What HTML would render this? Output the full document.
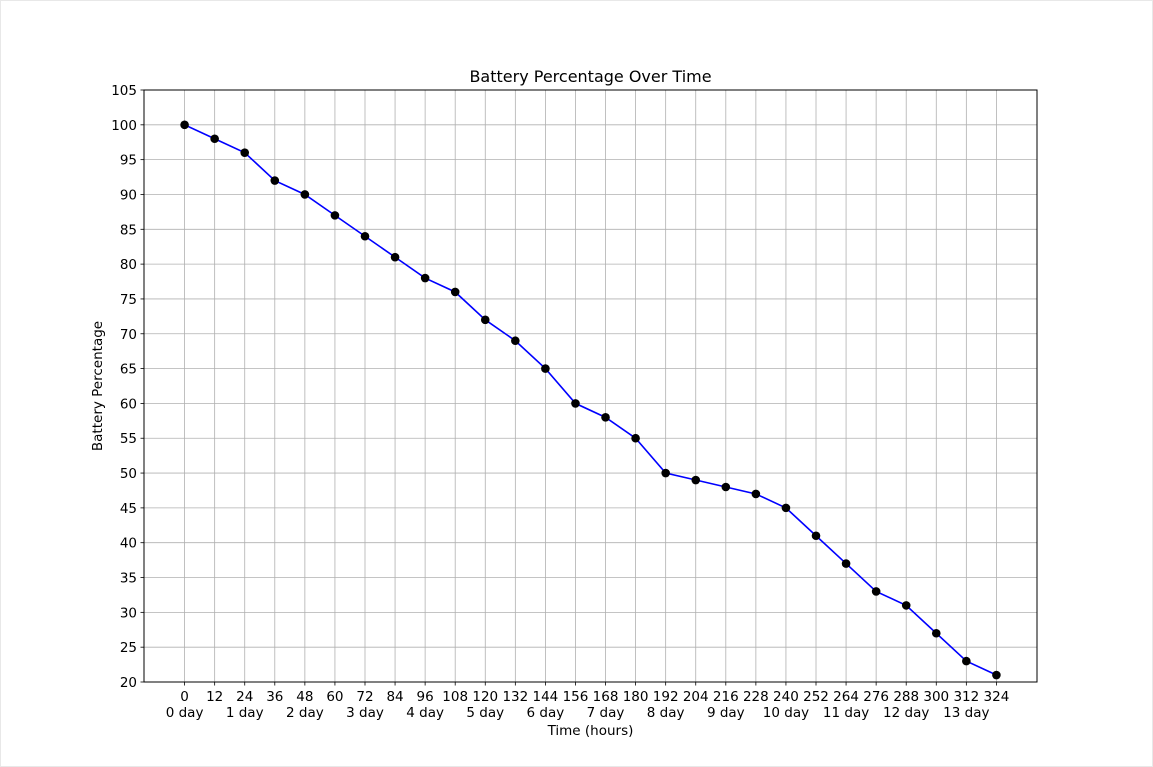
<!DOCTYPE html>
<html><head><meta charset="utf-8"><style>
html,body{margin:0;padding:0;background:#fff;}
svg{display:block;font-family:"DejaVu Sans","Liberation Sans",sans-serif;}
</style></head><body>
<svg id="chart" width="1153" height="767" viewBox="0 0 1153 767">
<rect x="0.5" y="0.5" width="1152" height="766" fill="#fff" stroke="#e8e8e8"/>
<g id="grid"></g>
<g id="ticks"></g>
<g id="series"></g>
<rect x="144" y="90" width="893" height="592" fill="none" stroke="#000" stroke-width="1"/>
<text x="590.5" y="82" text-anchor="middle" font-size="16">Battery Percentage Over Time</text>
<text x="590.5" y="735" text-anchor="middle" font-size="13.5">Time (hours)</text>
<text x="102" y="386" text-anchor="middle" font-size="13.5" transform="rotate(-90 102 386)">Battery Percentage</text>
</svg>
<script>
const hours = [0,12,24,36,48,60,72,84,96,108,120,132,144,156,168,180,192,204,216,228,240,252,264,276,288,300,312,324];
const battery = [100,98,96,92,90,87,84,81,78,76,72,69,65,60,58,55,50,49,48,47,45,41,37,33,31,27,23,21];
const yTicks = [20,25,30,35,40,45,50,55,60,65,70,75,80,85,90,95,100,105];
const dayLabels = ["0 day","1 day","2 day","3 day","4 day","5 day","6 day","7 day","8 day","9 day","10 day","11 day","12 day","13 day"];

const NS = "http://www.w3.org/2000/svg";
const L = 144, R = 1037, T = 90, B = 682;
const xMin = -16.2, xMax = 340.2, yMin = 20, yMax = 105;
function xs(v){ return L + (v - xMin) / (xMax - xMin) * (R - L); }
function ys(v){ return B - (v - yMin) / (yMax - yMin) * (B - T); }
function mk(tag, attrs, parent){
  const e = document.createElementNS(NS, tag);
  for (const k in attrs) e.setAttribute(k, attrs[k]);
  parent.appendChild(e);
  return e;
}
const grid = document.getElementById('grid');
const ticks = document.getElementById('ticks');
const series = document.getElementById('series');

hours.forEach((h, i) => {
  const x = xs(h);
  const g = mk('line', {x1:x, x2:x, y1:T, y2:B, stroke:'#b0b0b0', 'stroke-width':0.8}, grid);
  
  
  const t = mk('line', {x1:x, x2:x, y1:B, y2:B+3.5, stroke:'#000', 'stroke-width':0.8}, ticks);
  
  
  const lab = mk('text', {x:x, y:B+19, 'text-anchor':'middle', 'font-size':13.5}, ticks);
  lab.textContent = String(h);
  
  
  if (i % 2 === 0 && dayLabels[i/2] !== undefined) {
    const d = mk('text', {x:x, y:B+35, 'text-anchor':'middle', 'font-size':13.5}, ticks);
    d.textContent = dayLabels[i/2];
    
    
  }
});
yTicks.forEach(v => {
  const y = ys(v);
  const g = mk('line', {x1:L, x2:R, y1:y, y2:y, stroke:'#b0b0b0', 'stroke-width':0.8}, grid);
  
  
  const t = mk('line', {x1:L-3.5, x2:L, y1:y, y2:y, stroke:'#000', 'stroke-width':0.8}, ticks);
  
  
  const lab = mk('text', {x:L-7, y:y+5, 'text-anchor':'end', 'font-size':13.5}, ticks);
  lab.textContent = String(v);
  
  
});
const pts = hours.map((h, i) => xs(h) + ',' + ys(battery[i])).join(' ');
const line = mk('polyline', {points:pts, fill:'none', stroke:'#0000ff', 'stroke-width':1.6}, series);


hours.forEach((h, i) => {
  const c = mk('circle', {cx:xs(h), cy:ys(battery[i]), r:4.3, fill:'#000'}, series);
  
  
});
</script>
</body></html>
